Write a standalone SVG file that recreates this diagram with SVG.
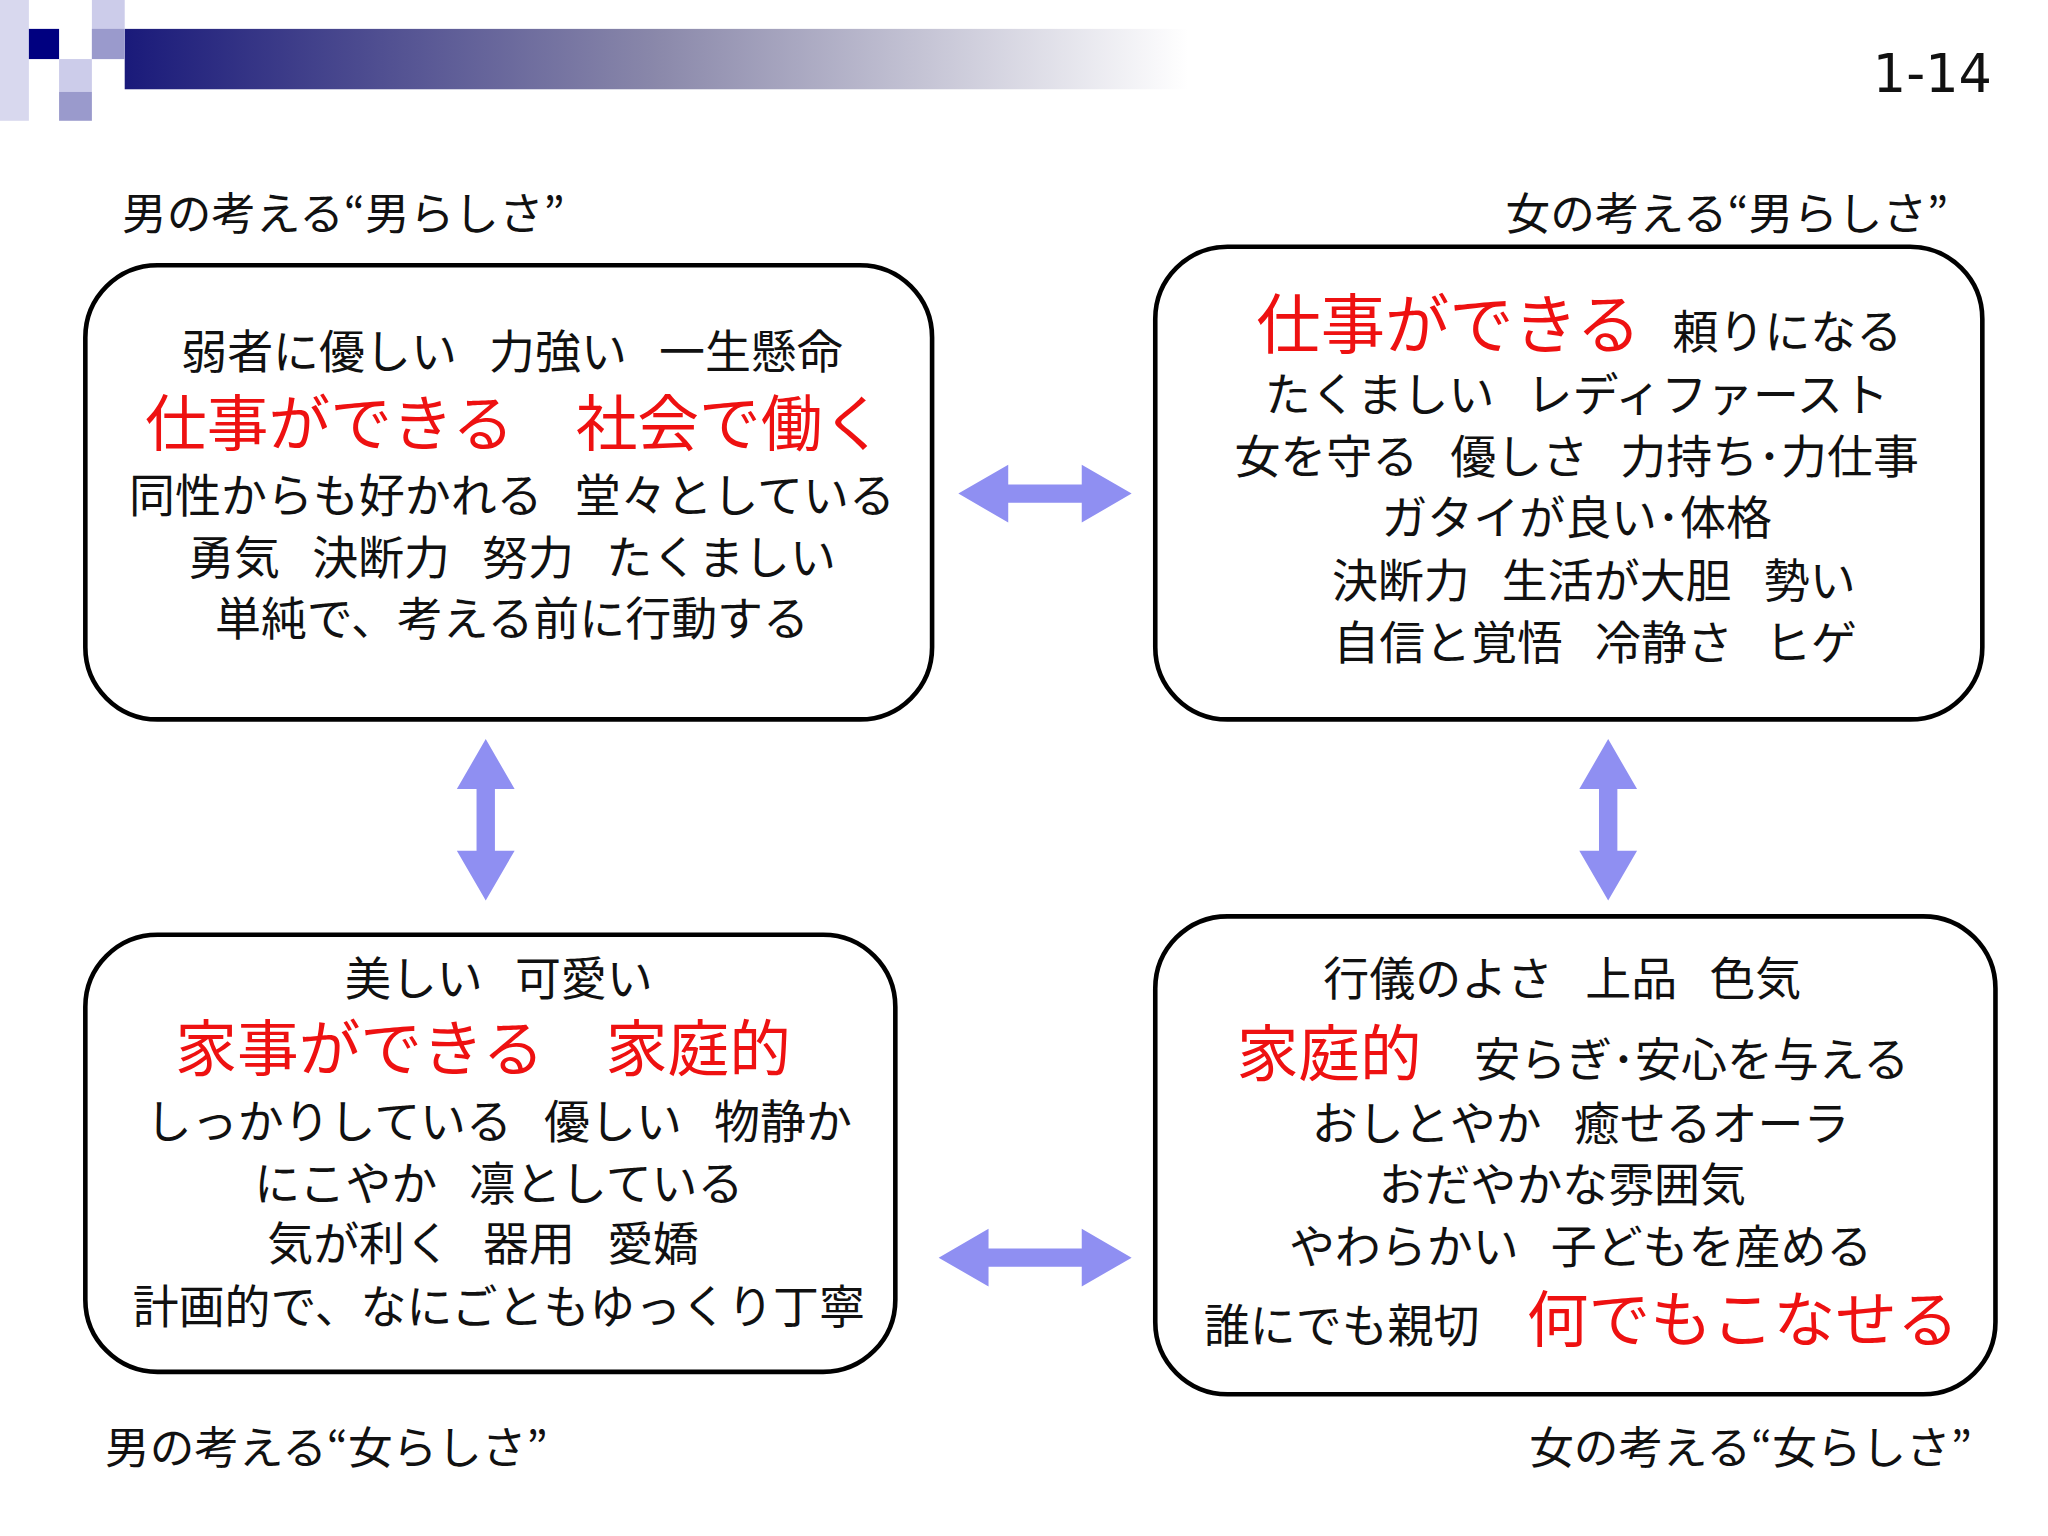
<svg xmlns="http://www.w3.org/2000/svg" width="2048" height="1536" viewBox="0 0 2048 1536">
<defs>
<linearGradient id="bar" x1="0" x2="1" y1="0" y2="0">
<stop offset="0" stop-color="#1a1a7a"/><stop offset="0.5" stop-color="#8a88aa"/><stop offset="1" stop-color="#ffffff"/>
</linearGradient>
<style>
text{font-family:"Noto Sans CJK JP","Noto Sans",sans-serif;fill:#111}
.t{font-size:35px;text-anchor:middle}
.r{font-size:47px;fill:#ee1111;text-anchor:middle}
.lab{font-size:34px}
.box{fill:#fff;stroke:#000;stroke-width:3.5}
.arr{fill:#8f8ff2}
</style>
</defs>
<rect width="2048" height="1536" fill="#fff"/>
<g transform="scale(1.3128)">
<g id="header">
<rect x="95" y="22" width="810" height="46" fill="url(#bar)"/>
<rect x="0" y="0" width="22" height="92" fill="#d8d8ee"/>
<rect x="70" y="0" width="25" height="45" fill="#ccccea"/>
<rect x="70" y="22" width="25" height="23" fill="#9a9acc"/>
<rect x="45" y="45" width="25" height="25" fill="#ccccea"/>
<rect x="45" y="70" width="25" height="22" fill="#9a9acc"/>
<rect x="22" y="22" width="23" height="23" fill="#000080"/>
<text x="1472" y="70" style="font-family:'DejaVu Sans',sans-serif;font-size:40px;text-anchor:middle">1-14</text>
</g>
<g id="labels">
<text class="lab" x="93" y="175">男の考える“男らしさ”</text>
<text class="lab" x="1484" y="175" text-anchor="end">女の考える“男らしさ”</text>
<text class="lab" x="80" y="1115">男の考える“女らしさ”</text>
<text class="lab" x="1502" y="1115" text-anchor="end">女の考える“女らしさ”</text>
</g>
<g id="tl">
<rect class="box" x="65" y="202" width="645" height="346" rx="55"/>
<text class="t" x="390" y="280">弱者に優しい&#8194;&#8201;力強い&#8194;&#8201;一生懸命</text>
<text class="r" x="392" y="340">仕事ができる&#8194;&#8194;社会で働く</text>
<text class="t" x="390" y="390">同性からも好かれる&#8194;&#8201;堂々としている</text>
<text class="t" x="390" y="437">勇気&#8194;&#8201;決断力&#8194;&#8201;努力&#8194;&#8201;たくましい</text>
<text class="t" x="390" y="484">単純で、考える前に行動する</text>
</g>
<g id="tr">
<rect class="box" x="880" y="188" width="630" height="360" rx="55"/>
<text x="957" y="265" style="font-size:49px;fill:#ee1111">仕事ができる</text>
<text x="1274" y="265" style="font-size:35px">頼りになる</text>
<text class="t" x="1201" y="313">たくましい&#8194;&#8201;レディファースト</text>
<text class="t" x="1201" y="360">女を守る&#8194;&#8201;優しさ&#8194;&#8201;力持ち･力仕事</text>
<text class="t" x="1201" y="407">ガタイが良い･体格</text>
<text class="t" x="1214" y="455">決断力&#8194;&#8201;生活が大胆&#8194;&#8201;勢い</text>
<text class="t" x="1215" y="502">自信と覚悟&#8194;&#8201;冷静さ&#8194;&#8201;ヒゲ</text>
</g>
<g id="bl">
<rect class="box" x="65" y="712" width="617" height="333" rx="55"/>
<text class="t" x="380" y="758">美しい&#8194;&#8201;可愛い</text>
<text class="r" x="368" y="816">家事ができる&#8194;&#8194;家庭的</text>
<text class="t" x="380" y="867">しっかりしている&#8194;&#8201;優しい&#8194;&#8201;物静か</text>
<text class="t" x="380" y="914">にこやか&#8194;&#8201;凛としている</text>
<text class="t" x="368" y="960">気が利く&#8194;&#8201;器用&#8194;&#8201;愛嬌</text>
<text class="t" x="380" y="1008">計画的で、なにごともゆっくり丁寧</text>
</g>
<g id="br">
<rect class="box" x="880" y="698" width="640" height="364" rx="55"/>
<text class="t" x="1190" y="758">行儀のよさ&#8194;&#8201;上品&#8194;&#8201;色気</text>
<text x="942" y="820" style="font-size:47px;fill:#ee1111">家庭的</text>
<text x="1123" y="820" style="font-size:35px">安らぎ･安心を与える</text>
<text class="t" x="1204" y="868">おしとやか&#8194;&#8201;癒せるオーラ</text>
<text class="t" x="1190" y="915">おだやかな雰囲気</text>
<text class="t" x="1204" y="962">やわらかい&#8194;&#8201;子どもを産める</text>
<text x="917" y="1022" style="font-size:35px">誰にでも親切</text>
<text x="1163" y="1022" style="font-size:47px;fill:#ee1111">何でもこなせる</text>
</g>
<g id="connectors">
<polygon class="arr" points="730,376 768,354 768,369 824,369 824,354 862,376 824,398 824,383 768,383 768,398"/>
<polygon class="arr" points="715,958 753,936 753,951 824,951 824,936 862,958 824,980 824,965 753,965 753,980"/>
<polygon class="arr" points="370,563 392,601 377,601 377,648 392,648 370,686 348,648 363,648 363,601 348,601"/>
<polygon class="arr" points="1225,563 1247,601 1232,601 1232,648 1247,648 1225,686 1203,648 1218,648 1218,601 1203,601"/>
</g>
</g>
</svg>
